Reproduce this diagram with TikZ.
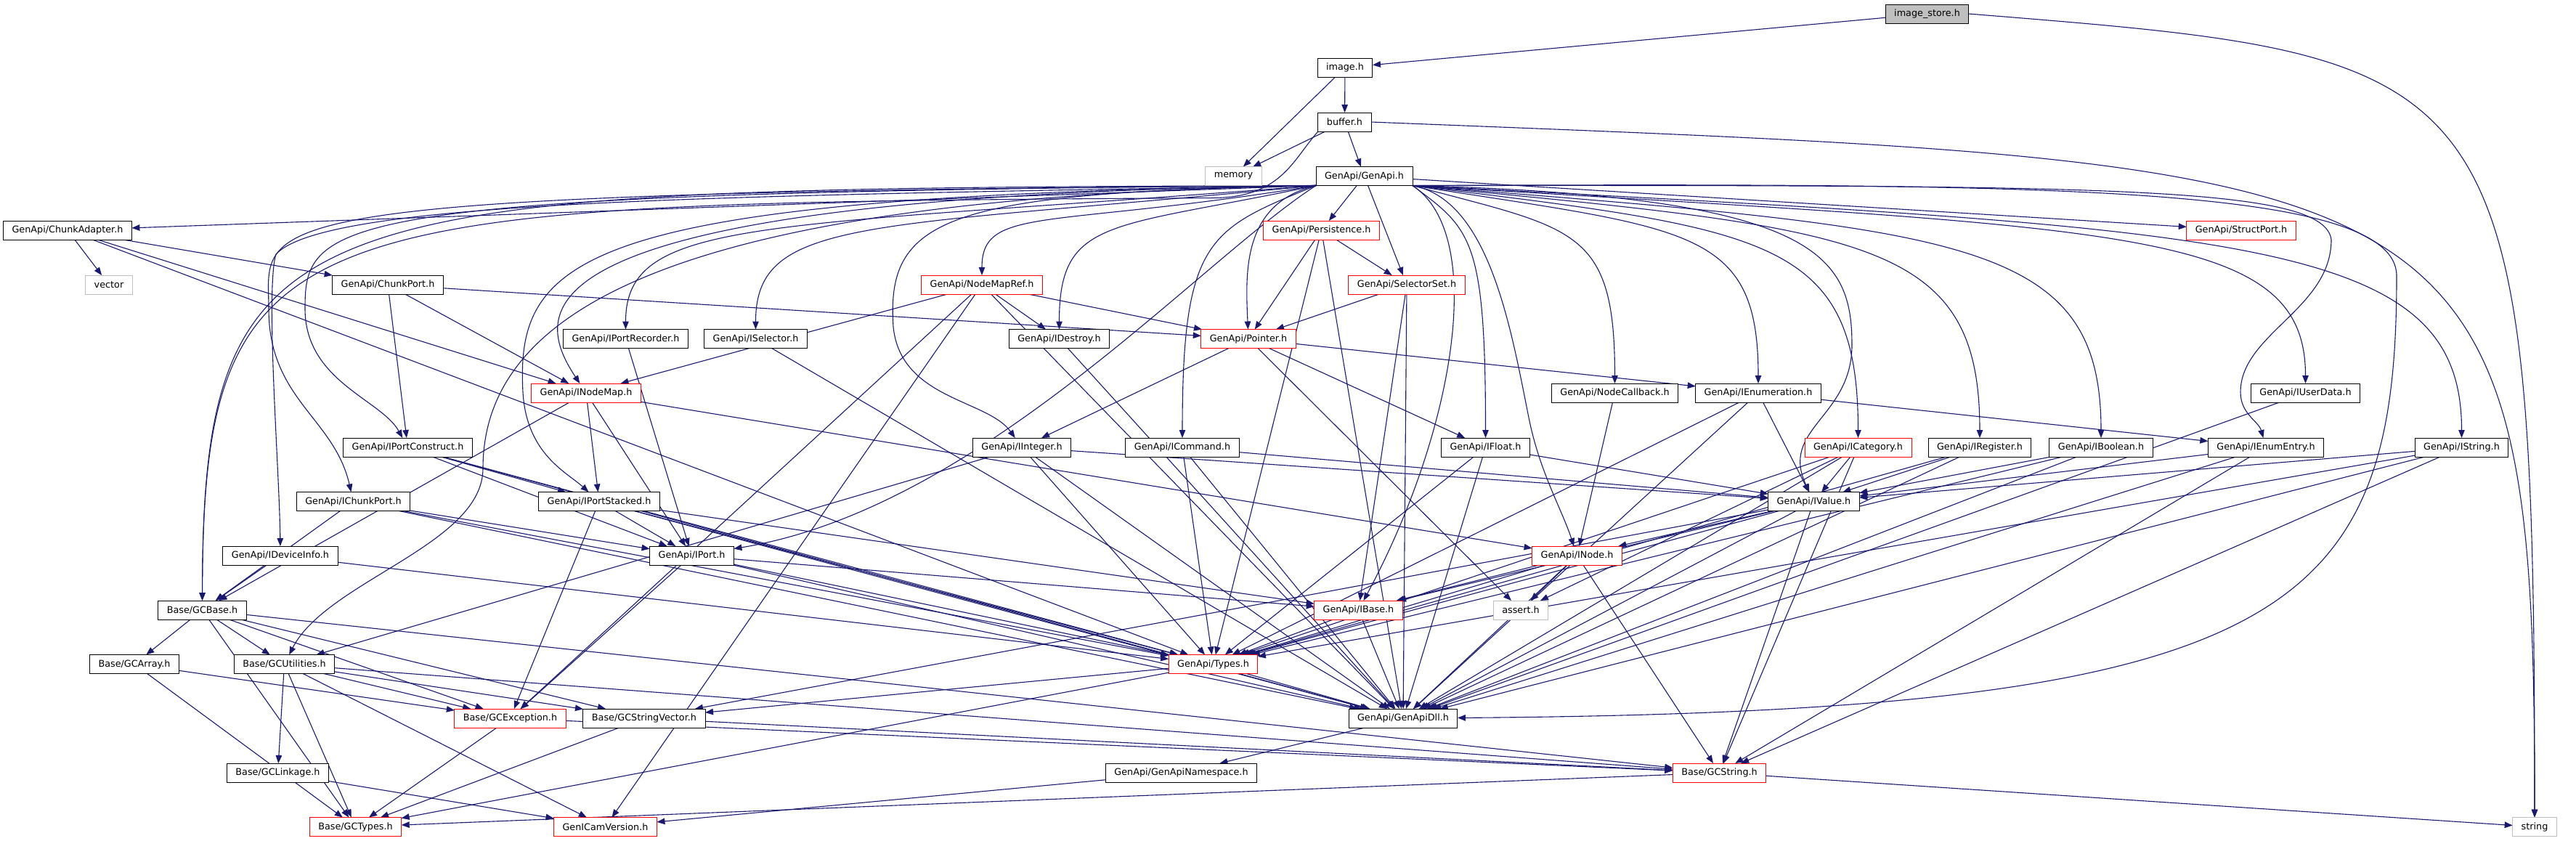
\documentclass[tikz,border=0pt]{standalone}
\usepackage{fontspec}
\setmainfont{DejaVu Sans}
\usetikzlibrary{arrows.meta,calc,backgrounds}
\definecolor{edgeblue}{HTML}{191970}
\definecolor{sysgray}{HTML}{BFBFBF}
\definecolor{truncred}{HTML}{FF0000}

\begin{document}
\begin{tikzpicture}[every node/.style={draw, fill=white, minimum height=5.2mm, inner xsep=2.4mm, inner ysep=0pt, outer sep=0pt, line width=0.2mm, font={\fontsize{7.27}{8.7}\selectfont}},
	trunc/.style={draw=truncred},
	sys/.style={draw=sysgray},
	>={Triangle[length=2.2mm, width=1.7mm]},
	inc/.style={->, draw=edgeblue, line width=0.22mm},
	incfan/.style={inc, to path={.. controls ($(\tikztostart)!#1!(\tikztotarget |- \tikztostart) + (0,-1.2)$) and ($(\tikztotarget)!#1!(\tikztotarget |- \tikztostart)$) .. (\tikztotarget) \tikztonodes}},
	incfan/.default=.8]
	\useasboundingbox (0, 0) rectangle (70.94, -23.14);

	% top
	\node (imgstore) [fill=sysgray] at (53.07, -0.38) {image\_store.h};
	\node (image) at (37.04, -1.86) {image.h};
	\node (buffer) at (37.03, -3.36) {buffer.h};
	\node (memory) [sys] at (33.97, -4.85) {memory};
	\node (genapi) at (37.57, -4.85) {GenApi/GenApi.h};

	% GenApi headers
	\node (chunkadapter) at (1.86, -6.34) {GenApi/ChunkAdapter.h};
	\node (persistence) [trunc] at (36.39, -6.34) {GenApi/Persistence.h};
	\node (structport) [trunc] at (61.72, -6.34) {GenApi/StructPort.h};
	\node (vector) [sys] at (3.00, -7.84) {vector};
	\node (chunkport) at (10.68, -7.84) {GenApi/ChunkPort.h};
	\node (nodemapref) [trunc] at (27.04, -7.84) {GenApi/NodeMapRef.h};
	\node (selectorset) [trunc] at (38.74, -7.84) {GenApi/SelectorSet.h};
	\node (iportrecorder) at (17.23, -9.33) {GenApi/IPortRecorder.h};
	\node (iselector) at (20.81, -9.33) {GenApi/ISelector.h};
	\node (idestroy) at (29.17, -9.33) {GenApi/IDestroy.h};
	\node (pointer) [trunc] at (34.38, -9.33) {GenApi/Pointer.h};
	\node (inodemap) [trunc] at (16.14, -10.82) {GenApi/INodeMap.h};
	\node (nodecallback) at (44.47, -10.82) {GenApi/NodeCallback.h};
	\node (ienumeration) at (48.42, -10.82) {GenApi/IEnumeration.h};
	\node (iuserdata) at (63.49, -10.82) {GenApi/IUserData.h};
	\node (iportconstruct) at (11.23, -12.32) {GenApi/IPortConstruct.h};
	\node (iinteger) at (28.14, -12.32) {GenApi/IInteger.h};
	\node (icommand) at (32.56, -12.32) {GenApi/ICommand.h};
	\node (ifloat) at (40.91, -12.32) {GenApi/IFloat.h};
	\node (icategory) [trunc] at (51.17, -12.32) {GenApi/ICategory.h};
	\node (iregister) at (54.52, -12.32) {GenApi/IRegister.h};
	\node (iboolean) at (57.86, -12.32) {GenApi/IBoolean.h};
	\node (ienumentry) at (62.40, -12.32) {GenApi/IEnumEntry.h};
	\node (istring) at (67.79, -12.32) {GenApi/IString.h};
	\node (ichunkport) at (9.73, -13.81) {GenApi/IChunkPort.h};
	\node (iportstacked) at (16.50, -13.81) {GenApi/IPortStacked.h};
	\node (ivalue) at (49.95, -13.81) {GenApi/IValue.h};
	\node (ideviceinfo) at (7.72, -15.30) {GenApi/IDeviceInfo.h};
	\node (iport) at (19.05, -15.30) {GenApi/IPort.h};
	\node (inode) [trunc] at (43.43, -15.30) {GenApi/INode.h};
	\node (ibase) [trunc] at (37.41, -16.80) {GenApi/IBase.h};
	\node (assert) [sys] at (41.88, -16.80) {assert.h};
	\node (types) [trunc] at (33.41, -18.29) {GenApi/Types.h};
	\node (genapidll) at (38.64, -19.78) {GenApi/GenApiDll.h};
	\node (genapinamespace) at (32.53, -21.28) {GenApi/GenApiNamespace.h};

	% Base headers
	\node (gcbase) at (5.57, -16.80) {Base/GCBase.h};
	\node (gcarray) at (3.70, -18.29) {Base/GCArray.h};
	\node (gcutilities) at (7.83, -18.29) {Base/GCUtilities.h};
	\node (gcexception) [trunc] at (14.05, -19.78) {Base/GCException.h};
	\node (gcstringvector) at (17.74, -19.78) {Base/GCStringVector.h};
	\node (gclinkage) at (7.65, -21.28) {Base/GCLinkage.h};
	\node (gcstring) [trunc] at (47.35, -21.28) {Base/GCString.h};
	\node (gctypes) [trunc] at (9.79, -22.77) {Base/GCTypes.h};
	\node (genicamversion) [trunc] at (16.67, -22.77) {GenICamVersion.h};
	\node (string) [sys] at (69.80, -22.77) {string};

	\begin{scope}[on background layer]
	% image_store.h, image.h, buffer.h
	\draw[inc] (imgstore) -- (image);
	\draw[incfan=.95] (imgstore.east) to (string);
	\draw[inc] (image) -- (buffer);
	\draw[inc] (image) -- (memory);
	\draw[inc] (buffer) -- (memory);
	\draw[inc] (buffer) -- (genapi);
	\draw[incfan=.95] (buffer.east) to (string);
	\draw[inc] (buffer.south west) .. controls (35.6, -4.4) and (35.3, -5.4) .. (33.5, -5.45) .. controls (8, -5.6) and (5.6, -5.7) .. (gcbase);

	% GenApi.h
	\draw[inc] (genapi.south west) -- (chunkadapter);
	\draw[inc] (genapi) -- (persistence);
	\draw[inc] (genapi) -- (selectorset);
	\draw[inc] (genapi.south west) .. controls (34.2, -5.6) and (34.3, -7.5) .. (pointer);
	\draw[inc] (genapi) -- (structport);
	\draw[inc] (genapi.south east) .. controls (41, -6.5) and (40, -12) .. (ibase);
	\draw[incfan] (genapi.south west) to (nodemapref);
	\draw[incfan] (genapi.south west) to (idestroy);
	\draw[incfan] (genapi.south west) to (iportrecorder);
	\draw[incfan] (genapi.south west) to (iselector);
	\draw[inc] (genapi.south west) .. controls (14, -5.4) and (14.6, -8.5) .. (inodemap);
	\draw[inc] (genapi.south west) .. controls (9, -5.3) and (8.4, -6) .. (8.4, -8.5) .. controls (8.4, -10.5) and (10.5, -11) .. (iportconstruct);
	\draw[inc] (genapi.south west) .. controls (26, -5.3) and (24.4, -6) .. (24.6, -9) .. controls (24.8, -11) and (27.2, -11) .. (iinteger);
	\draw[incfan] (genapi.south west) to (icommand);
	\draw[inc] (genapi.south west) .. controls (6, -5.3) and (7.4, -6) .. (7.4, -8.5) .. controls (7.4, -11) and (9.2, -11.5) .. (ichunkport);
	\draw[inc] (genapi.south west) .. controls (16, -5.4) and (14.2, -7) .. (14.4, -10.8) .. controls (14.5, -12.5) and (15.6, -13) .. (iportstacked);
	\draw[inc] (genapi.south west) .. controls (20, -5.4) and (9, -5.5) .. (7.6, -7) .. controls (7.3, -8) and (7.7, -13) .. (ideviceinfo);
	\draw[inc] (genapi.south west) .. controls (33, -7.2) and (27, -14) .. (iport);
	\draw[inc] (genapi.south west) .. controls (8, -5.2) and (5.6, -5.3) .. (gcbase);
	\draw[inc] (genapi.south west) .. controls (20, -5.4) and (13.3, -8) .. (13.3, -12.9) .. controls (13.3, -15) and (9, -16) .. (gcutilities);
	\draw[incfan] (genapi.south east) to (nodecallback);
	\draw[incfan] (genapi.south east) to (ienumeration);
	\draw[incfan] (genapi.south east) to (iuserdata);
	\draw[incfan] (genapi.south east) to (ifloat);
	\draw[incfan] (genapi.south east) to (icategory);
	\draw[incfan] (genapi.south east) to (iregister);
	\draw[incfan] (genapi.south east) to (iboolean);
	\draw[inc] (genapi.south east) .. controls (58, -5.1) and (64, -5.1) .. (64.2, -6.6) .. controls (64.2, -8.5) and (61.7, -9.2) .. (61.7, -10.8) .. controls (61.7, -11.4) and (62.2, -11.6) .. (ienumentry);
	\draw[incfan] (genapi.south east) to (istring);
	\draw[inc] (genapi.south east) .. controls (50, -5.4) and (51, -7) .. (51, -9.5) .. controls (51, -11.5) and (49, -11.8) .. (ivalue);
	\draw[inc] (genapi.south east) .. controls (41, -5.5) and (41.6, -9) .. (42.1, -11.5) .. controls (42.4, -13) and (43, -14) .. (inode);
	\draw[inc] (genapi.south east) .. controls (56, -5.05) and (66, -5.05) .. (66, -7.6) .. controls (66, -17) and (63, -19.6) .. (genapidll);

	% rank 4 - 7
	\draw[inc] (chunkadapter) -- (vector);
	\draw[inc] (chunkadapter) -- (chunkport);
	\draw[inc] (chunkadapter) -- (inodemap);
	\draw[inc] (chunkadapter) -- (types);
	\draw[inc] (persistence) -- (selectorset);
	\draw[inc] (persistence) -- (pointer);
	\draw[inc] (persistence) -- (types);
	\draw[inc] (persistence) -- (genapidll);
	\draw[inc] (chunkport) -- (iportconstruct);
	\draw[inc] (chunkport) -- (inodemap);
	\draw[inc] (chunkport) -- (pointer);
	\draw[inc] (nodemapref) -- (idestroy);
	\draw[inc] (nodemapref) -- (pointer);
	\draw[inc] (nodemapref) -- (inodemap);
	\draw[inc] (nodemapref) -- (gcexception);
	\draw[inc] (nodemapref) -- (genicamversion);
	\draw[inc] (nodemapref) -- (genapidll);
	\draw[inc] (selectorset) -- (pointer);
	\draw[inc] (selectorset) -- (ibase);
	\draw[inc] (selectorset) -- (genapidll);
	\draw[inc] (iportrecorder) -- (iport);
	\draw[inc] (iselector) -- (genapidll);
	\draw[inc] (idestroy) -- (genapidll);
	\draw[inc] (pointer) -- (iinteger);
	\draw[inc] (pointer) -- (ifloat);
	\draw[inc] (pointer) -- (ienumeration);
	\draw[inc] (pointer) -- (assert);
	\draw[inc] (inodemap) -- (gcbase);
	\draw[inc] (inodemap) -- (iportstacked);
	\draw[inc] (inodemap) -- (iport);
	\draw[inc] (inodemap) -- (inode);
	\draw[inc] (nodecallback) -- (inode);
	\draw[inc] (ienumeration) -- (ienumentry);
	\draw[inc] (ienumeration) -- (ivalue);
	\draw[inc] (ienumeration) -- (types);
	\draw[inc] (ienumeration) -- (genapidll);
	\draw[inc] (iuserdata) -- (genapidll);

	% rank 8 - 10
	\draw[inc] (iportconstruct) -- (iportstacked);
	\draw[inc] (iportconstruct) -- (iport);
	\draw[inc] (iportconstruct) -- (types);
	\draw[inc] (iportconstruct) -- (genapidll);
	\draw[inc] (iinteger) -- (ivalue);
	\draw[inc] (iinteger) -- (types);
	\draw[inc] (iinteger) -- (genapidll);
	\draw[inc] (iinteger) -- (gcutilities);
	\draw[inc] (icommand) -- (ivalue);
	\draw[inc] (icommand) -- (types);
	\draw[inc] (icommand) -- (genapidll);
	\draw[inc] (ifloat) -- (ivalue);
	\draw[inc] (ifloat) -- (types);
	\draw[inc] (ifloat) -- (genapidll);
	\draw[inc] (icategory) -- (ivalue);
	\draw[inc] (icategory) -- (assert);
	\draw[inc] (icategory) -- (types);
	\draw[inc] (icategory) -- (genapidll);
	\draw[inc] (icategory) -- (gcstring);
	\draw[inc] (iregister) -- (ivalue);
	\draw[inc] (iregister) -- (types);
	\draw[inc] (iregister) -- (genapidll);
	\draw[inc] (iboolean) -- (ivalue);
	\draw[inc] (iboolean) -- (types);
	\draw[inc] (iboolean) -- (genapidll);
	\draw[inc] (ienumentry) -- (ivalue);
	\draw[inc] (ienumentry) -- (genapidll);
	\draw[inc] (ienumentry) -- (gcstring);
	\draw[inc] (istring) -- (ivalue);
	\draw[inc] (istring) -- (types);
	\draw[inc] (istring) -- (genapidll);
	\draw[inc] (istring) -- (gcstring);
	\draw[inc] (ichunkport) -- (gcbase);
	\draw[inc] (ichunkport) -- (iport);
	\draw[inc] (ichunkport) -- (types);
	\draw[inc] (ichunkport) -- (genapidll);
	\draw[inc] (iportstacked) -- (iport);
	\draw[inc] (iportstacked) -- (ibase);
	\draw[inc] (iportstacked) -- (gcexception);
	\draw[inc] (iportstacked) -- (types);
	\draw[inc] (iportstacked) -- (genapidll);
	\draw[inc] (ivalue) -- (inode);
	\draw[inc] (ivalue) -- (ibase);
	\draw[inc] (ivalue) -- (types);
	\draw[inc] (ivalue) -- (genapidll);
	\draw[inc] (ivalue) -- (gcstring);
	\draw[inc] (ivalue) -- (gcstringvector);
	\draw[inc] (ideviceinfo) -- (gcbase);
	\draw[inc] (ideviceinfo) -- (types);
	\draw[inc] (iport) -- (ibase);
	\draw[inc] (iport) -- (gcexception);
	\draw[inc] (iport) -- (types);
	\draw[inc] (iport) -- (genapidll);
	\draw[inc] (inode) -- (ibase);
	\draw[inc] (inode) -- (assert);
	\draw[inc] (inode) -- (types);
	\draw[inc] (inode) -- (genapidll);
	\draw[inc] (inode) -- (gcstring);

	% rank 11 - 15
	\draw[inc] (ibase) -- (types);
	\draw[inc] (ibase) -- (genapidll);
	\draw[inc] (types) -- (genapidll);
	\draw[inc] (types) -- (gcstringvector);
	\draw[inc] (types) -- (gctypes);
	\draw[inc] (genapidll) -- (genapinamespace);
	\draw[inc] (genapinamespace) -- (genicamversion);
	\draw[inc] (gcbase) -- (gcarray);
	\draw[inc] (gcbase) -- (gcutilities);
	\draw[inc] (gcbase) -- (gcexception);
	\draw[inc] (gcbase) -- (gcstringvector);
	\draw[inc] (gcbase) -- (gctypes);
	\draw[inc] (gcbase) -- (gcstring);
	\draw[inc] (gcarray) -- (gcexception);
	\draw[inc] (gcarray) -- (gctypes);
	\draw[inc] (gcutilities) -- (gcexception);
	\draw[inc] (gcutilities) -- (gcstringvector);
	\draw[inc] (gcutilities) -- (gclinkage);
	\draw[inc] (gcutilities) -- (gctypes);
	\draw[inc] (gcutilities) -- (genicamversion);
	\draw[inc] (gcutilities) -- (gcstring);
	\draw[inc] (gcexception) -- (gctypes);
	\draw[inc] (gcexception) -- (gcstring);
	\draw[inc] (gcstringvector) -- (gctypes);
	\draw[inc] (gcstringvector) -- (gcstring);
	\draw[inc] (gclinkage) -- (genicamversion);
	\draw[inc] (gcstring) -- (gctypes);
	\draw[inc] (gcstring) -- (string);
	\end{scope}
\end{tikzpicture}
\end{document}
